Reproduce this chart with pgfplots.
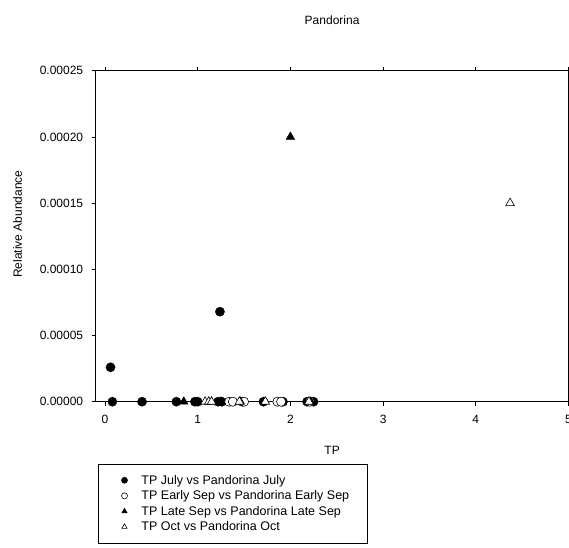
\documentclass[border=0pt]{standalone}
\usepackage{pgfplots}
\pgfplotsset{compat=1.18}
\usepackage{fontspec}
\setmainfont{Liberation Sans}

% Relative abundance of Pandorina against total phosphorus, by sampling period
\pgfplotstableread{
x y
0.06 0.0000260
0.08 0
0.40 0
0.77 0
0.97 0
1.00 0
1.22 0
1.24 0.0000680
1.26 0
1.48 0
1.71 0
1.92 0
2.18 0
2.25 0
}\julydata
\pgfplotstableread{
x y
1.34 0
1.38 0
1.50 0
1.86 0
1.90 0
2.21 0
}\earlysepdata
\pgfplotstableread{
x y
0.85 0
1.25 0
1.46 0
2.00 0.000200
2.22 0
}\latesepdata
\pgfplotstableread{
x y
1.08 0
1.12 0
1.15 0
1.45 0
1.73 0
2.20 0
4.37 0.000150
}\octdata

\begin{document}
\begin{tikzpicture}
\useasboundingbox (-95.7bp,-146.3bp) rectangle (473.3bp,401.7bp);
\begin{axis}[
  at={(0,0)}, anchor=south west,
  scale only axis,
  width=472.8bp, height=331bp,
  xmin=-0.1, xmax=5,
  ymin=0, ymax=0.00025,
  xtick={0,1,2,3,4,5},
  ytick={0,0.00005,0.0001,0.00015,0.0002,0.00025},
  scaled y ticks=false,
  yticklabel style={xshift=-5bp, /pgf/number format/fixed, /pgf/number format/fixed zerofill, /pgf/number format/precision=5},
  /pgf/number format/assume math mode=true,
  tick align=outside,
  major tick length=4bp,
  tick style={black, line width=0.6pt},
  axis line style={line width=0.8pt},
  ticklabel style={font=\fontsize{12bp}{14bp}\selectfont},
  xticklabel style={yshift=-6bp},
  title={Pandorina},
  title style={at={(axis description cs:0.5,1)}, anchor=center, yshift=45bp,
    font=\fontsize{12bp}{14bp}\selectfont},
  xlabel={TP},
  xlabel style={at={(axis description cs:0.5,0)}, anchor=center, yshift=-49bp,
    font=\fontsize{12bp}{14bp}\selectfont},
  ylabel={Relative Abundance},
  ylabel style={at={(axis description cs:0,0.536)}, anchor=center, yshift=78bp,
    font=\fontsize{12bp}{14bp}\selectfont},
  legend style={at={(axis description cs:0,0)}, anchor=north west,
    xshift=2.5bp, yshift=-62bp,
    draw=black, line width=0.6pt,
    font=\fontsize{12.5bp}{14bp}\selectfont,
    inner xsep=16bp, inner ysep=9bp,
    row sep=1bp,
    cells={anchor=west},
    legend image code/.code={%
      \path[draw=none, fill=none] (0bp,0bp) -- (25bp,0bp);
      \draw[#1, mark size=3bp] plot coordinates {(10bp,0bp)};},
  },
  clip=false,
]
\addplot[only marks, mark=*, mark size=4.6bp, black, fill=black] table {\julydata};
\addlegendentry{TP July vs Pandorina July}
\addplot[only marks, mark=*, mark size=4.6bp, black, fill=white, line width=0.6pt] table {\earlysepdata};
\addlegendentry{TP Early Sep vs Pandorina Early Sep}
\addplot[only marks, mark=triangle*, mark size=5bp, black, fill=black] table {\latesepdata};
\addlegendentry{TP Late Sep vs Pandorina Late Sep}
\addplot[only marks, mark=triangle*, mark size=5bp, black, fill=white, line width=0.6pt] table {\octdata};
\addlegendentry{TP Oct vs Pandorina Oct}
\end{axis}
\end{tikzpicture}
\end{document}
